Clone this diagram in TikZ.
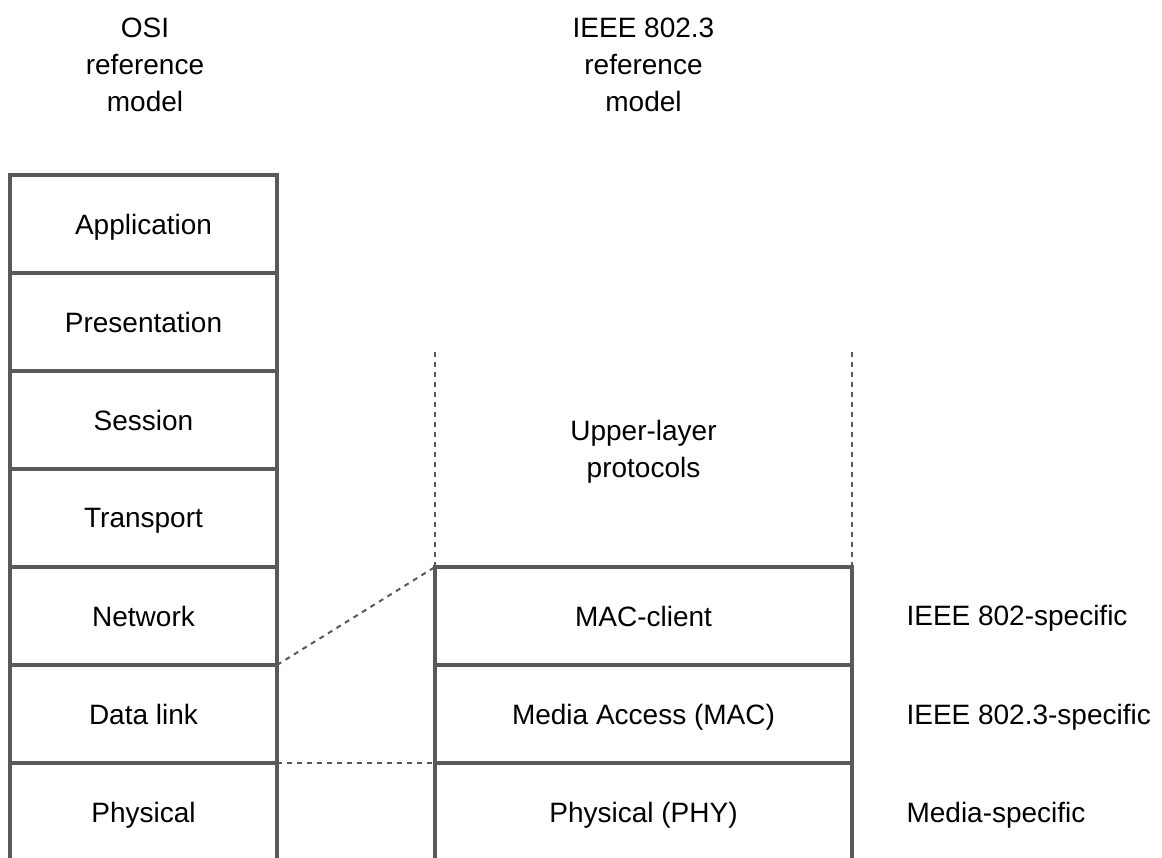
\documentclass[tikz,border=0pt]{standalone}
\usepackage{fontspec}
\setmainfont{Liberation Sans}
\usetikzlibrary{positioning}

\begin{document}
\begin{tikzpicture}[
   x=1pt,y=-1pt,
   font=\fontsize{28}{37}\selectfont,
   layer/.style={draw=black!65,line width=3.5pt,outer sep=0pt,inner sep=0pt,minimum height=98pt,text depth=0pt},
   osi/.style={layer,minimum width=267pt},
   ieee/.style={layer,minimum width=417pt},
   guide/.style={draw=black!65,line width=2pt,dash pattern=on 5pt off 5pt},
   every node/.style={align=center}]
\useasboundingbox (0,0) rectangle (1162,858);
% headings
\node (osihd) at (145,65) {OSI\\reference\\model};
\node (ieeehd) at (643.5,65) {IEEE 802.3\\reference\\model};
% OSI stack
\node[osi] (app) at (143.5,224) {Application};
\node[osi,below=0pt of app] (pres) {Presentation};
\node[osi,below=0pt of pres] (sess) {Session};
\node[osi,below=0pt of sess] (trans) {Transport};
\node[osi,below=0pt of trans] (net) {Network};
\node[osi,below=0pt of net] (dl) {Data link};
\node[osi,below=0pt of dl] (phys) {Physical};
% IEEE 802.3 stack
\node[ieee,right=158pt of net] (macc) {MAC-client};
\node[ieee,below=0pt of macc] (mac) {Media Access (MAC)};
\node[ieee,below=0pt of mac] (phy) {Physical (PHY)};
\node (upper) at (643.5,452) {Upper-layer\\protocols};
\coordinate (ultop) at (435,352);
\coordinate (urtop) at (852,352);
\draw[guide] (ultop) -- (macc.north west);
\draw[guide] (urtop) -- (macc.north east);
\draw[guide] (net.south east) -- (macc.north west);
\draw[guide] (dl.south east) -- (mac.south west);
% side labels
\node[anchor=west] (spec802) at (903,618) {IEEE 802-specific};
\node[anchor=west] (spec8023) at (903,717) {IEEE 802.3-specific};
\node[anchor=west] (specmedia) at (903,815) {Media-specific};
\end{tikzpicture}
\end{document}
